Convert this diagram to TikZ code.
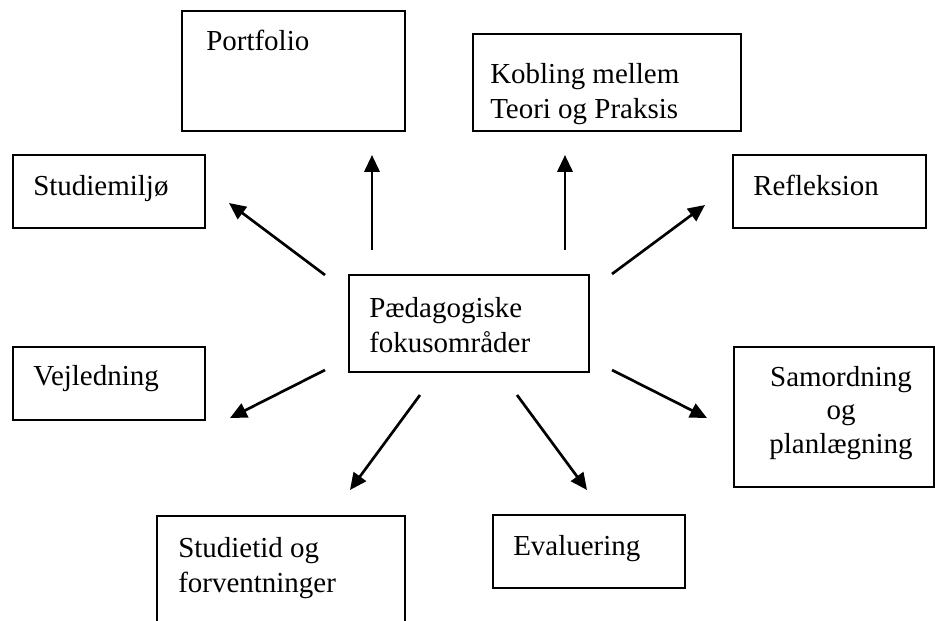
\documentclass[tikz,border=0pt]{standalone}
\usepackage{fontspec}
\setmainfont{Liberation Serif}
\usetikzlibrary{arrows.meta}

\tikzset{
    box/.style={draw, line width=1.4pt, inner sep=0pt, anchor=north west},
    txt/.style={inner sep=0pt, font=\fontsize{20.6pt}{24.8pt}\selectfont},
    arr/.style={line width=1.9pt, -{Triangle[length=0.42cm,width=0.38cm]}}
}

\begin{document}
\begin{tikzpicture}[x=0.025cm, y=-0.025cm]
    \clip (0,0) rectangle (935,620);

    % Boxes
    \node[box, minimum width=5.575cm, minimum height=3cm]     (portfolio)  at (181,10)  {};
    \node[box, minimum width=6.7cm,   minimum height=2.425cm] (kobling)    at (472,33)  {};
    \node[box, minimum width=4.8cm,   minimum height=1.825cm] (studiemiljo) at (12,154) {};
    \node[box, minimum width=4.825cm, minimum height=1.825cm] (refleksion) at (732,154) {};
    \node[box, minimum width=6cm,     minimum height=2.425cm] (fokus)      at (348,274) {};
    \node[box, minimum width=4.8cm,   minimum height=1.825cm] (vejledning) at (12,346)  {};
    \node[box, minimum width=5cm,     minimum height=3.5cm]   (samordning) at (733,346) {};
    \node[box, minimum width=6.2cm,   minimum height=3.4cm]   (studietid)  at (156,515) {};
    \node[box, minimum width=4.8cm,   minimum height=1.825cm] (evaluering) at (492,514) {};

    % Texts (multi-line: base = last line)
    \node[txt, anchor=base west] (portfolio-t)   at (206,50)  {Portfolio};
    \node[txt, anchor=base west, align=left] (kobling-t) at (490,118) {Kobling mellem\\Teori og Praksis};
    \node[txt, anchor=base west] (studiemiljo-t) at (33,195)  {Studiemiljø};
    \node[txt, anchor=base west] (refleksion-t)  at (753,195) {Refleksion};
    \node[txt, anchor=base west, align=left] (fokus-t) at (369,352) {Pædagogiske\\fokusområder};
    \node[txt, anchor=base west] (vejledning-t)  at (33,385)  {Vejledning};
    \node[txt, anchor=base, align=center, font=\fontsize{20.6pt}{23.5pt}\selectfont] (samordning-t) at (841,453) {Samordning\\og\\planlægning};
    \node[txt, anchor=base west, align=left] (studietid-t) at (178,592) {Studietid og\\forventninger};
    \node[txt, anchor=base west] (evaluering-t)  at (513,555) {Evaluering};

    % Arrow ends
    \coordinate (s0) at (325,275);  \coordinate (s1) at (229,203);
    \coordinate (p0) at (372,250);  \coordinate (p1) at (372,155);
    \coordinate (k0) at (565,250);  \coordinate (k1) at (565,155);
    \coordinate (r0) at (612,274);  \coordinate (r1) at (705,205);
    \coordinate (v0) at (325,370);  \coordinate (v1) at (230,418);
    \coordinate (t0) at (420,395);  \coordinate (t1) at (350,490);
    \coordinate (e0) at (517,395);  \coordinate (e1) at (587,490);
    \coordinate (a0) at (612,370);  \coordinate (a1) at (707,418);

    % Arrows
    \draw[arr] (s0) -- (s1);
    \draw[arr] (p0) -- (p1);
    \draw[arr] (k0) -- (k1);
    \draw[arr] (r0) -- (r1);
    \draw[arr] (v0) -- (v1);
    \draw[arr] (t0) -- (t1);
    \draw[arr] (e0) -- (e1);
    \draw[arr] (a0) -- (a1);
\end{tikzpicture}
\end{document}
